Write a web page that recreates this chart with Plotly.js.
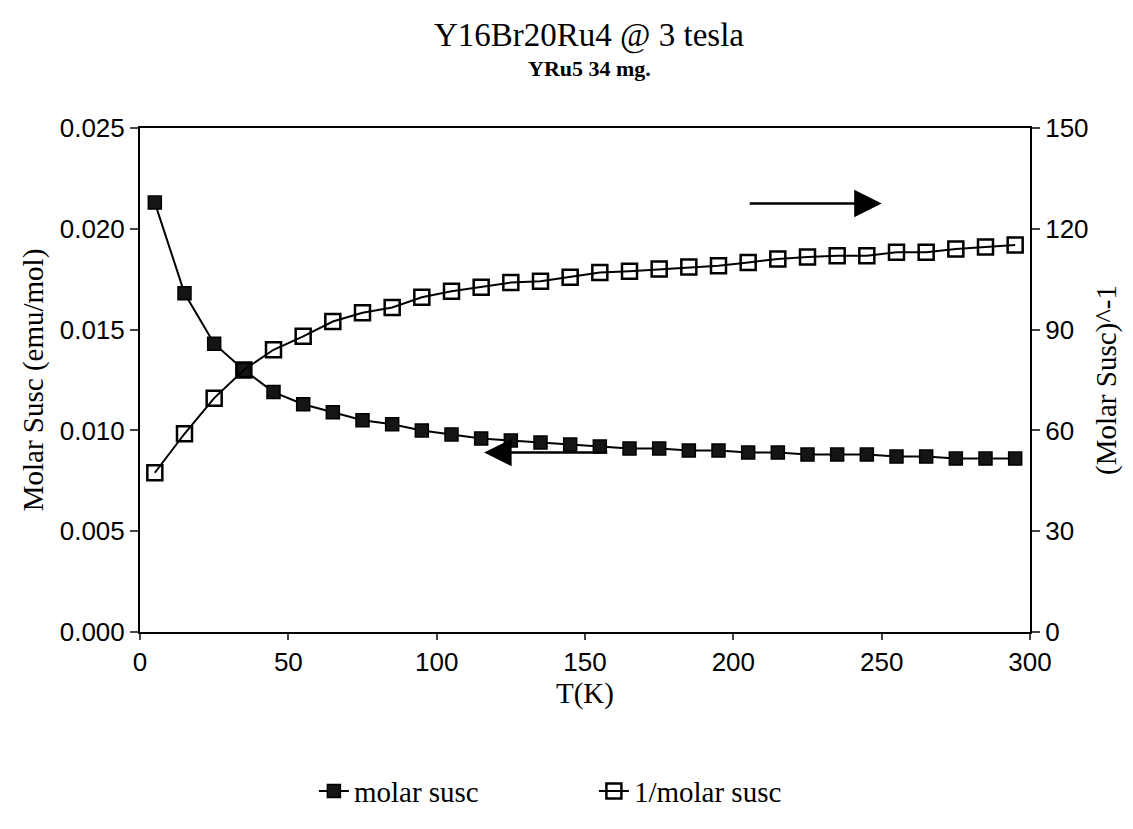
<!DOCTYPE html>
<html>
<head>
<meta charset="utf-8">
<script src="https://cdn.plot.ly/plotly-3.0.1.min.js"></script>
<style>html,body{margin:0;padding:0;background:#fff;}#chart{width:1133px;height:829px;}</style>
</head>
<body>
<div id="chart"></div>
<script>
const temperatureK = [5,15,25,35,45,55,65,75,85,95,105,115,125,135,145,155,165,175,185,195,205,215,225,235,245,255,265,275,285,295];
const molarSusc = [0.0213,0.0168,0.0143,0.0130,0.0119,0.0113,0.0109,0.0105,0.0103,0.0100,0.0098,0.0096,0.0095,0.0094,0.0093,0.0092,0.0091,0.0091,0.0090,0.0090,0.0089,0.0089,0.0088,0.0088,0.0088,0.0087,0.0087,0.0086,0.0086,0.0086];
const invMolarSusc = [47.4,59,69.6,78,84,88,92.4,95,96.6,99.6,101.4,102.6,104,104.4,105.6,107,107.4,108,108.6,109,110,111,111.6,112,112,113,113,114,114.6,115.2];
const seriesNames = ["molar susc","1/molar susc"];
const xTicks = [0,50,100,150,200,250,300];
const yLeftTicks = [0,0.005,0.010,0.015,0.020,0.025];
const yLeftTickText = ["0.000","0.005","0.010","0.015","0.020","0.025"];
const yRightTicks = [0,30,60,90,120,150];
const titleText = "Y16Br20Ru4 @ 3 tesla";
const subtitleText = "YRu5 34 mg.";

const sans = "Liberation Sans, Arial, sans-serif";
const serif = "Liberation Serif, Times New Roman, serif";

const traces = [
  {x: temperatureK, y: molarSusc, name: seriesNames[0], type: "scatter", mode: "lines+markers",
   line: {color: "#000", width: 2},
   marker: {symbol: "square", size: 13, color: "#151515", line: {color: "#000", width: 1.5}},
   yaxis: "y"},
  {x: temperatureK, y: invMolarSusc, name: seriesNames[1], type: "scatter", mode: "lines+markers",
   line: {color: "#000", width: 2},
   marker: {symbol: "square-open", size: 15, color: "#000", line: {color: "#000", width: 2.5}},
   yaxis: "y2"}
];

const layout = {
  width: 1133, height: 829,
  paper_bgcolor: "#fff", plot_bgcolor: "#fff",
  margin: {l: 140, r: 103, t: 128, b: 193},
  showlegend: true,
  legend: {orientation: "h", x: 0.51, xanchor: "center", y: -0.265, yanchor: "top",
           font: {family: serif, size: 29, color: "#000"}, entrywidth: 235, entrywidthmode: "pixels"},
  xaxis: {range: [0, 300], tickvals: xTicks, ticks: "outside", ticklen: 6, tickwidth: 2,
          showline: true, linewidth: 2, linecolor: "#000", mirror: true, showgrid: false, zeroline: false,
          tickfont: {family: sans, size: 26, color: "#000"},
          title: {text: "T(K)", font: {family: serif, size: 29, color: "#000"}, standoff: 0}},
  yaxis: {range: [0, 0.025], tickvals: yLeftTicks, ticktext: yLeftTickText, ticks: "outside", ticklen: 8, tickwidth: 2,
          showline: true, linewidth: 2, linecolor: "#000", showgrid: false, zeroline: false,
          tickfont: {family: sans, size: 26, color: "#000"},
          title: {text: "Molar Susc (emu/mol)", font: {family: serif, size: 29, color: "#000"}, standoff: 8}},
  yaxis2: {range: [0, 150], tickvals: yRightTicks, overlaying: "y", side: "right", ticks: "outside", ticklen: 8, tickwidth: 2,
          showline: true, linewidth: 2, linecolor: "#000", showgrid: false, zeroline: false,
          tickfont: {family: sans, size: 26, color: "#000"},
          title: {text: "(Molar Susc)^-1", font: {family: serif, size: 29, color: "#000"}, standoff: 8}},
  annotations: [
    {text: titleText, xref: "paper", yref: "paper", x: 0.505, y: 1.183, xanchor: "center", yanchor: "middle",
     showarrow: false, font: {family: serif, size: 33, color: "#000"}},
    {text: "<b>" + subtitleText + "</b>", xref: "paper", yref: "paper", x: 0.505, y: 1.118, xanchor: "center", yanchor: "middle",
     showarrow: false, font: {family: serif, size: 22, color: "#000"}},
    {x: 116, y: 0.0089, xref: "x", yref: "y", ax: 158, ay: 0.0089, axref: "x", ayref: "y",
     showarrow: true, arrowhead: 2, arrowsize: 2.2, arrowwidth: 2.5, arrowcolor: "#000", text: ""},
    {x: 250, y: 127.5, xref: "x", yref: "y2", ax: 205, ay: 127.5, axref: "x", ayref: "y2",
     showarrow: true, arrowhead: 2, arrowsize: 2.2, arrowwidth: 2.5, arrowcolor: "#000", text: ""}
  ]
};

Plotly.newPlot("chart", traces, layout, {displayModeBar: false, staticPlot: true});
</script>
</body>
</html>
